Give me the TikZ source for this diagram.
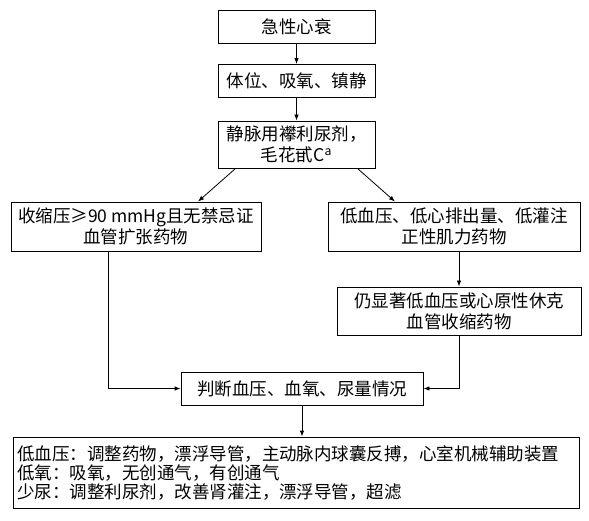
\documentclass[tikz,border=0pt]{standalone}
\usepackage{fontspec}
\setmainfont{Noto Sans CJK SC}
\usetikzlibrary{arrows.meta}

\begin{document}
\begin{tikzpicture}[x=1pt,y=-1pt,line width=0.8pt,>={Latex[length=6pt,width=4.5pt]}]
	\tikzstyle{flow box}=[draw,inner sep=0pt,align=center,font=\fontsize{17.5}{21}\selectfont]
	\tikzstyle{small box}=[flow box,minimum width=157pt,minimum height=33pt]
	\tikzstyle{wide box}=[flow box,minimum height=49pt]
	\tikzstyle{note box}=[flow box,align=left,minimum width=566pt,minimum height=71pt,text width=558pt,font=\fontsize{17.5}{19}\selectfont]
	
	\useasboundingbox (0,0) rectangle (589,521);
	
	% Draw the first steps
	\node[small box] (HF) at (296.5,26.5) {急性心衰};
	\node[small box] (Pos) at (296.5,81) {体位、吸氧、镇静};
	\node[small box,minimum height=47pt] (Diu) at (296.5,144.5) {静脉用襻利尿剂，\\毛花甙C\textsuperscript{a}};
	
	% Draw the two branches
	\node[wide box,minimum width=250pt] (Vaso) at (136,226.5) {收缩压≥90 mmHg且无禁忌证\\血管扩张药物};
	\node[wide box,minimum width=252pt] (Ino) at (454,226.5) {低血压、低心排出量、低灌注\\正性肌力药物};
	\node[wide box,minimum width=244pt,minimum height=48pt] (Shock) at (459,311) {仍显著低血压或心原性休克\\血管收缩药物};
	
	% Draw the judgement and the measures
	\node[small box,minimum width=242pt] (Judge) at (302,388.5) {判断血压、血氧、尿量情况};
	\node[note box] (Note) at (296,472.5) {低血压：调整药物，漂浮导管，主动脉内球囊反搏，心室机械辅助装置\\低氧：吸氧，无创通气，有创通气\\少尿：调整利尿剂，改善肾灌注，漂浮导管，超滤};
	
	% Connect the boxes
	\draw[->] (HF) -- (Pos);
	\draw[->] (Pos) -- (Diu);
	\draw[->] ([xshift=18pt]Diu.south west) -- ([xshift=62pt]Vaso.north);
	\draw[->] ([xshift=-18pt]Diu.south east) -- ([xshift=-59pt]Ino.north);
	\draw[->] (Ino.south -| Shock.north) -- (Shock.north);
	\draw[->] ([xshift=-28pt]Vaso.south) |- (Judge.west);
	\draw[->] (Shock.south) |- (Judge.east);
	\draw[->] (Judge.south) -- (Note.north -| Judge.south);
	
\end{tikzpicture}
\end{document}
